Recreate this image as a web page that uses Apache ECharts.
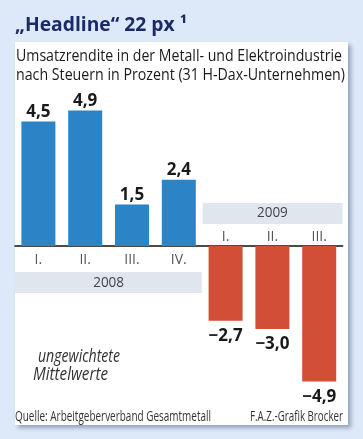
<!DOCTYPE html>
<html><head><meta charset="utf-8">
<script src="https://cdn.jsdelivr.net/npm/echarts@6/dist/echarts.min.js"></script>
<style>html,body{margin:0;padding:0;background:#dde8f8}#c{width:363px;height:439px}</style>
</head><body><div id="c"></div>
<script>
var quarters = ['I.', 'II.', 'III.', 'IV.', 'I.', 'II.', 'III.'];
var years = ['2008', '2008', '2008', '2008', '2009', '2009', '2009'];
var values = [4.5, 4.9, 1.5, 2.4, -2.7, -3.0, -4.9];
var titleText = '\u201EHeadline\u201C 22 px \u00B9';
var subtitleLines = ['Umsatzrendite in der Metall- und Elektroindustrie', 'nach Steuern in Prozent (31 H-Dax-Unternehmen)'];
var noteLines = ['ungewichtete', 'Mittelwerte'];
var sourceText = 'Quelle: Arbeitgeberverband Gesamtmetall';
var creditText = 'F.A.Z.-Grafik Brocker';

var FONT = '"Open Sans", "DejaVu Sans", sans-serif';
var catKeys = quarters.map(function (q, i) { return years[i] + '|' + q; });
function fmt(v) { return v.toFixed(1).replace('.', ',').replace('-', '\u2212'); }

var Y_MIN = -5, Y_MAX = 5;
var G_LEFT = 15, G_RIGHT = 20.4, G_TOP = 107.75, G_BOTTOM = 54.75;
var H = 439;
var gridH = H - G_TOP - G_BOTTOM;
var zeroOffset = -gridH * (0 - Y_MIN) / (Y_MAX - Y_MIN); // move category axis up to zero line

var mctx = document.createElement('canvas').getContext('2d');
function fitScale(text, font, width) { mctx.font = font; return width / mctx.measureText(text).width; }

var chart = echarts.init(document.getElementById('c'), null, { renderer: 'canvas' });
var option = {
  backgroundColor: '#dde8f8',
  animation: false,
  grid: { left: G_LEFT, right: G_RIGHT, top: G_TOP, bottom: G_BOTTOM, containLabel: false },
  xAxis: [{
    type: 'category', data: catKeys, position: 'bottom', offset: zeroOffset,
    axisLine: { show: true, onZero: false, lineStyle: { color: '#111', width: 1.5 } },
    axisTick: { show: false },
    axisLabel: {
      margin: 7, fontFamily: FONT, fontSize: 14, color: '#555',
      formatter: function (v) { var p = v.split('|'); return p[0] === '2008' ? p[1] : ''; }
    }
  }, {
    type: 'category', data: catKeys, position: 'bottom', offset: zeroOffset,
    axisLine: { show: false, onZero: false }, axisTick: { show: false },
    axisLabel: {
      inside: true, margin: 2, fontFamily: FONT, fontSize: 14, color: '#555',
      formatter: function (v) { var p = v.split('|'); return p[0] === '2009' ? p[1] : ''; }
    }
  }],
  yAxis: { type: 'value', min: Y_MIN, max: Y_MAX, show: false, splitLine: { show: false } },
  series: [{
    type: 'bar', xAxisIndex: 0, barWidth: 34,
    data: values.map(function (v) {
      return {
        value: v,
        itemStyle: { color: v >= 0 ? '#2a84c6' : '#d24e37' },
        label: { position: v >= 0 ? 'top' : 'bottom', distance: v >= 0 ? 1 : 7 }
      };
    }),
    label: {
      show: true, fontFamily: FONT, fontWeight: 'bold', fontSize: 17, color: '#1a1a1a',
      formatter: function (p) { return fmt(p.value); }
    }
  }]
};
chart.setOption(option);

function px(i) { return chart.convertToPixel({ xAxisIndex: 0 }, catKeys[i]); }
var zeroY = chart.convertToPixel({ yAxisIndex: 0 }, 0);
var step = px(1) - px(0);
var gLeft = px(0) - step / 2, gRight = px(quarters.length - 1) + step / 2;
var split = (px(3) + px(4)) / 2;

function fitText(text, font, x, y, width, fill, align, z) {
  return {
    type: 'text', x: x, y: y, scaleX: fitScale(text, font, width), z: z || 5,
    style: { text: text, font: font, fill: fill, align: align || 'left', verticalAlign: 'middle' }
  };
}

var titleFont = 'bold 20px ' + FONT;
var subFont = '17px ' + FONT;
var noteFont = 'italic 18px ' + FONT;
var footFont = '14px ' + FONT;

var graphics = [
  { type: 'rect', shape: { x: 15, y: 42, width: 333, height: 383 }, style: { fill: '#fff', shadowBlur: 4, shadowOffsetX: 3, shadowOffsetY: 3, shadowColor: 'rgba(60,80,120,0.45)' }, z: -10 },
  fitText(titleText, titleFont, 15, 25, 172, '#1c2a68'),
  fitText(subtitleLines[0], subFont, 16, 56, 326, '#1a1a1a'),
  fitText(subtitleLines[1], subFont, 16, 75, 329, '#1a1a1a'),
  // year bands
  { type: 'rect', shape: { x: gLeft, y: zeroY + 26, width: split - gLeft - 0.5, height: 21 }, style: { fill: '#dfe6ee' }, z: 1 },
  { type: 'text', x: (gLeft + split) / 2, y: zeroY + 37, z: 2, scaleX: 0.9, style: { text: years[0], font: '15px ' + FONT, fill: '#444', align: 'center', verticalAlign: 'middle' } },
  { type: 'rect', shape: { x: split + 0.5, y: zeroY - 43, width: gRight - split - 0.5, height: 21 }, style: { fill: '#dfe6ee' }, z: 1 },
  { type: 'text', x: (split + gRight) / 2, y: zeroY - 33, z: 2, scaleX: 0.9, style: { text: years[4], font: '15px ' + FONT, fill: '#444', align: 'center', verticalAlign: 'middle' } },
  fitText(noteLines[0], noteFont, 38, 357, 82, '#333'),
  fitText(noteLines[1], noteFont, 33, 375, 75, '#333'),
  fitText(sourceText, footFont, 15, 417, 196, '#333'),
  fitText(creditText, footFont, 343, 417, 93, '#333', 'right')
];
chart.setOption({ graphic: graphics });
</script></body></html>
